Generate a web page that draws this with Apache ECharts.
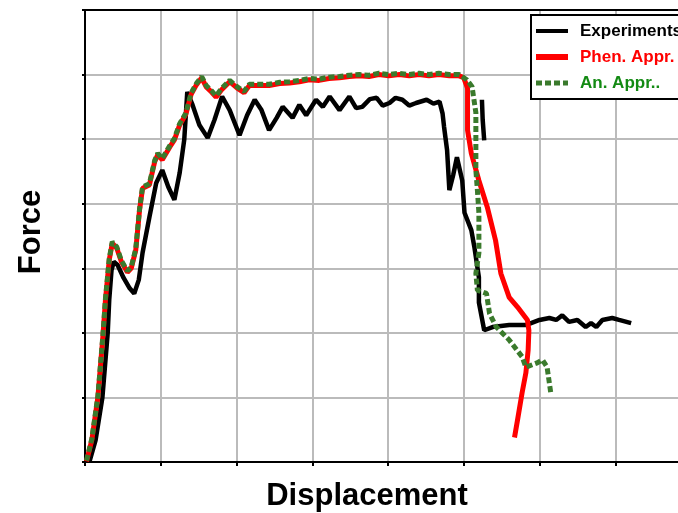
<!DOCTYPE html>
<html>
<head>
<meta charset="utf-8">
<script src="https://cdn.jsdelivr.net/npm/echarts@6/dist/echarts.min.js"></script>
<style>
  html, body { margin: 0; padding: 0; background: #ffffff; }
  #chart { width: 678px; height: 513px; }
</style>
</head>
<body>
<div id="chart"></div>
<script>
// 曲线数据 [位移, 力]，单位为网格格数（原图无刻度值）
const experiment = [
  [0.06, 0.01], [0.14, 0.34], [0.23, 1.00], [0.30, 2.00], [0.32, 2.51], [0.35, 2.97],
  [0.38, 3.10], [0.43, 3.05], [0.51, 2.85], [0.59, 2.69], [0.65, 2.61], [0.71, 2.82],
  [0.76, 3.24], [0.85, 3.79], [0.94, 4.32], [1.02, 4.52], [1.10, 4.26], [1.18, 4.06],
  [1.25, 4.48], [1.31, 4.99], [1.35, 5.73], [1.42, 5.53], [1.51, 5.22], [1.62, 5.02],
  [1.71, 5.30], [1.81, 5.66], [1.91, 5.45], [2.04, 5.06], [2.14, 5.37], [2.24, 5.61],
  [2.33, 5.45], [2.43, 5.14], [2.53, 5.33], [2.61, 5.50], [2.74, 5.33], [2.83, 5.53],
  [2.92, 5.37], [3.05, 5.61], [3.14, 5.50], [3.23, 5.66], [3.36, 5.45], [3.49, 5.66],
  [3.58, 5.48], [3.66, 5.50], [3.76, 5.62], [3.85, 5.64], [3.93, 5.52], [4.02, 5.56],
  [4.10, 5.64], [4.19, 5.61], [4.28, 5.52], [4.37, 5.56], [4.51, 5.61], [4.60, 5.55],
  [4.68, 5.58], [4.72, 5.40], [4.74, 5.19], [4.78, 4.83], [4.81, 4.21], [4.86, 4.44],
  [4.91, 4.72], [4.98, 4.36], [5.01, 3.86], [5.10, 3.59], [5.14, 3.33], [5.20, 2.86],
  [5.20, 2.47], [5.27, 2.04], [5.38, 2.09], [5.60, 2.12], [5.82, 2.12], [6.00, 2.20],
  [6.13, 2.23], [6.22, 2.20], [6.30, 2.27], [6.39, 2.17], [6.50, 2.20], [6.61, 2.09],
  [6.68, 2.15], [6.75, 2.09], [6.83, 2.20], [6.96, 2.23], [7.05, 2.20], [7.21, 2.15]
];
// 实验曲线中单独的一小段
const experimentSpike = [[5.24, 5.61], [5.25, 5.30], [5.27, 4.98]];

const phenAppr = [
  [0.02, 0.01], [0.09, 0.34], [0.17, 1.00], [0.24, 2.00], [0.27, 2.51], [0.32, 3.13],
  [0.36, 3.39], [0.42, 3.31], [0.48, 3.10], [0.56, 2.94], [0.61, 3.00], [0.67, 3.28],
  [0.72, 3.90], [0.76, 4.24], [0.85, 4.29], [0.92, 4.65], [0.96, 4.76], [1.02, 4.68],
  [1.12, 4.88], [1.18, 4.99], [1.25, 5.22], [1.33, 5.38], [1.40, 5.69], [1.47, 5.84],
  [1.54, 5.95], [1.60, 5.81], [1.67, 5.73], [1.73, 5.65], [1.80, 5.76], [1.91, 5.89],
  [2.01, 5.79], [2.10, 5.72], [2.17, 5.83], [2.30, 5.83], [2.43, 5.83], [2.57, 5.86],
  [2.70, 5.87], [2.83, 5.89], [2.96, 5.92], [3.09, 5.91], [3.22, 5.94], [3.36, 5.95],
  [3.49, 5.97], [3.62, 5.98], [3.75, 5.97], [3.88, 6.00], [4.01, 5.98], [4.15, 6.00],
  [4.28, 5.98], [4.41, 6.00], [4.54, 5.98], [4.67, 6.00], [4.81, 5.98], [4.94, 5.98],
  [5.00, 5.95], [5.05, 5.79], [5.05, 5.14], [5.10, 4.78], [5.20, 4.36], [5.31, 3.95],
  [5.42, 3.43], [5.49, 2.92], [5.60, 2.55], [5.71, 2.40], [5.84, 2.20], [5.86, 2.04],
  [5.85, 1.73], [5.82, 1.38], [5.77, 1.07], [5.71, 0.65], [5.67, 0.38]
];

const anAppr = [
  [0.02, 0.02], [0.09, 0.36], [0.17, 1.02], [0.24, 2.02], [0.27, 2.53], [0.32, 3.15],
  [0.36, 3.41], [0.42, 3.33], [0.48, 3.12], [0.56, 2.96], [0.61, 3.02], [0.67, 3.30],
  [0.72, 3.92], [0.76, 4.26], [0.85, 4.31], [0.92, 4.67], [0.96, 4.78], [1.02, 4.70],
  [1.12, 4.90], [1.18, 5.01], [1.25, 5.24], [1.33, 5.40], [1.40, 5.71], [1.47, 5.86],
  [1.54, 5.97], [1.60, 5.83], [1.67, 5.75], [1.73, 5.67], [1.80, 5.78], [1.91, 5.91],
  [2.01, 5.81], [2.10, 5.74], [2.17, 5.85], [2.30, 5.85], [2.43, 5.85], [2.57, 5.88],
  [2.70, 5.89], [2.83, 5.91], [2.96, 5.94], [3.09, 5.93], [3.22, 5.96], [3.36, 5.97],
  [3.49, 5.99], [3.62, 6.00], [3.75, 5.99], [3.88, 6.02], [4.01, 6.00], [4.15, 6.02],
  [4.28, 6.00], [4.41, 6.02], [4.54, 6.00], [4.67, 6.02], [4.81, 6.00], [4.94, 6.00],
  [5.04, 5.92], [5.11, 5.81], [5.16, 5.41], [5.16, 4.88], [5.16, 4.52], [5.18, 4.21],
  [5.20, 3.86], [5.20, 3.24], [5.16, 2.92], [5.18, 2.66], [5.30, 2.61], [5.34, 2.30],
  [5.43, 2.09], [5.60, 1.89], [5.77, 1.63], [5.82, 1.47], [5.96, 1.53], [6.04, 1.58],
  [6.10, 1.47], [6.15, 1.06]
];

const seriesNames = ['Experiments', 'Phen. Appr.', 'An. Appr..'];
const seriesColors = ['#000000', '#ff0000', '#3a7a2c'];
const legendTextColors = ['#000000', '#ff0000', '#138a13'];
const legendLineWidths = [4, 6, 5];

const myChart = echarts.init(document.getElementById('chart'), null, { renderer: 'canvas' });

const axisCommon = {
  type: 'value',
  axisLabel: { show: false },
  axisLine: { show: true, lineStyle: { color: '#000000', width: 2 } },
  splitLine: { show: true, lineStyle: { color: '#bbbbbb', width: 2 } },
};

const option = {
  backgroundColor: '#ffffff',
  animation: false,
  grid: {
    left: 85,
    top: 10,
    width: 606,
    height: 452,
    outerBoundsMode: 'none',
  },
  legend: {
    orient: 'vertical',
    left: 531,
    top: 15,
    padding: [6, 12, 6, 2],
    itemGap: 6,
    itemWidth: 32,
    itemHeight: 14,
    backgroundColor: '#ffffff',
    borderColor: '#000000',
    borderWidth: 2,
    borderRadius: 0,
    itemStyle: { opacity: 0 },
    data: seriesNames.map((name, i) => ({
      name: name,
      textStyle: { color: legendTextColors[i] },
      lineStyle: { width: legendLineWidths[i] },
    })),
    textStyle: {
      fontFamily: '"Liberation Sans", Arial, sans-serif',
      fontWeight: 'bold',
      fontSize: 17,
      lineHeight: 20,
      padding: [0, 0, 0, 7],
    },
  },
  xAxis: [
    {
      ...axisCommon,
      min: 0,
      max: 8,
      interval: 1,
      axisTick: { show: true, inside: false, length: 4, lineStyle: { color: '#000000', width: 2 } },
    },
    {
      type: 'value',
      position: 'top',
      min: 0,
      max: 8,
      interval: 1,
      axisLabel: { show: false },
      axisTick: { show: false },
      splitLine: { show: false },
      axisLine: { show: true, lineStyle: { color: '#000000', width: 2 } },
    },
  ],
  yAxis: {
    ...axisCommon,
    min: 0,
    max: 7,
    interval: 1,
    axisTick: { show: true, inside: false, length: 3, lineStyle: { color: '#000000', width: 2 } },
  },
  graphic: [
    {
      type: 'text',
      x: 31,
      y: 232,
      rotation: Math.PI / 2,
      style: {
        text: 'Force',
        font: 'bold 31px "Liberation Sans", Arial, sans-serif',
        fill: '#000000',
        align: 'center',
        verticalAlign: 'middle',
      },
    },
    {
      type: 'text',
      x: 367,
      y: 496,
      style: {
        text: 'Displacement',
        font: 'bold 31px "Liberation Sans", Arial, sans-serif',
        fill: '#000000',
        align: 'center',
        verticalAlign: 'middle',
      },
    },
  ],
  series: [
    {
      name: seriesNames[0],
      type: 'line',
      data: experiment,
      showSymbol: false,
      symbol: 'none',
      color: seriesColors[0],
      lineStyle: { color: seriesColors[0], width: 4.5 },
      z: 2,
    },
    {
      name: seriesNames[0],
      type: 'line',
      data: experimentSpike,
      showSymbol: false,
      symbol: 'none',
      color: seriesColors[0],
      lineStyle: { color: seriesColors[0], width: 4.5 },
      z: 2,
    },
    {
      name: seriesNames[1],
      type: 'line',
      data: phenAppr,
      showSymbol: false,
      symbol: 'none',
      color: seriesColors[1],
      lineStyle: { color: seriesColors[1], width: 5 },
      z: 3,
    },
    {
      name: seriesNames[2],
      type: 'line',
      data: anAppr,
      showSymbol: false,
      symbol: 'none',
      color: seriesColors[2],
      lineStyle: { color: seriesColors[2], width: 5, type: [6, 3] },
      z: 4,
    },
  ],
};

myChart.setOption(option);
window.addEventListener('resize', () => myChart.resize());
</script>
</body>
</html>
